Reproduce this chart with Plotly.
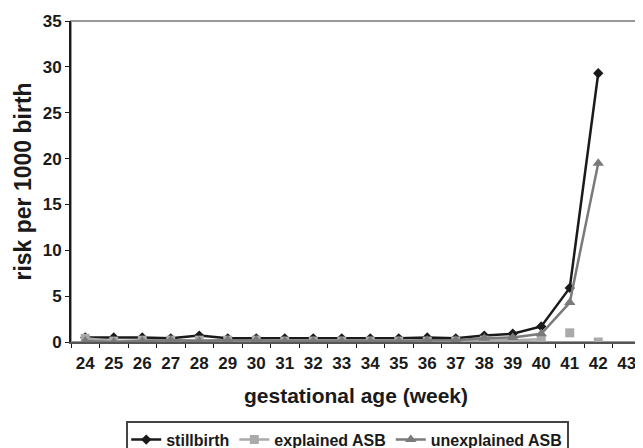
import plotly.graph_objects as go

weeks = [str(w) for w in range(24, 44)]
data_weeks = [str(w) for w in range(24, 43)]
stillbirth = [0.5, 0.5, 0.5, 0.4, 0.7, 0.4, 0.4, 0.4, 0.4, 0.4, 0.4, 0.4, 0.5, 0.4, 0.7, 0.9, 1.7, 5.9, 29.3]
explained = [0.4, 0.1, 0.2, 0.2, 0.2, 0.2, 0.2, 0.1, 0.1, 0.1, 0.1, 0.1, 0.1, 0.1, 0.2, 0.2, 0.3, 1.0, 0.0]
unexplained = [0.1, 0.0, 0.1, 0.2, 0.1, 0.2, 0.2, 0.1, 0.1, 0.1, 0.1, 0.1, 0.2, 0.2, 0.4, 0.5, 0.9, 4.3, 19.5]

line_end = 17  # explained ASB line ends at week 40; later points drawn unconnected

font_family = "Liberation Sans, Arial, Helvetica, sans-serif"

fig = go.Figure()
fig.add_trace(go.Scatter(
    x=data_weeks, y=stillbirth, name="stillbirth", mode="lines+markers",
    line=dict(color="#1a1a1a", width=2.5),
    marker=dict(symbol="diamond", size=8, color="#1a1a1a")))
fig.add_trace(go.Scatter(
    x=data_weeks[:line_end], y=explained[:line_end], name="explained ASB", mode="lines+markers",
    line=dict(color="#aaaaaa", width=2.5), legendgroup="exp",
    marker=dict(symbol="square", size=9, color="#aaaaaa")))
fig.add_trace(go.Scatter(
    x=data_weeks[line_end:], y=explained[line_end:], name="explained ASB", mode="markers",
    legendgroup="exp", showlegend=False,
    marker=dict(symbol="square", size=9, color="#aaaaaa")))
fig.add_trace(go.Scatter(
    x=data_weeks, y=unexplained, name="unexplained ASB", mode="lines+markers",
    line=dict(color="#7a7a7a", width=2.5),
    marker=dict(symbol="triangle-up", size=10, color="#7a7a7a")))

fig.update_layout(
    width=635, height=440,
    margin=dict(l=63, r=2, t=13, b=106, autoexpand=False),
    paper_bgcolor="white", plot_bgcolor="white",
    font=dict(family=font_family, color="#1a1a1a", size=15),
    showlegend=True,
    legend=dict(orientation="h", xref="container", yref="container",
                x=0.535, xanchor="center", y=0.062, yanchor="top",
                bordercolor="#444444", borderwidth=2, bgcolor="white",
                font=dict(size=16, family=font_family, weight="bold"),
                tracegroupgap=0),
    xaxis=dict(type="category", categoryorder="array", categoryarray=weeks,
               range=[-0.5, 19.5], tickmode="array", tickvals=weeks, ticktext=weeks,
               tickson="boundaries", ticks="outside", ticklen=4, tickcolor="#1a1a1a",
               ticklabelstandoff=5,
               showline=True, linecolor="#555555", linewidth=2, showgrid=False,
               automargin=False,
               tickfont=dict(size=17, family=font_family, weight="bold"),
               title=dict(text="gestational age (week)", standoff=16,
                          font=dict(size=21, family=font_family, weight="bold"))),
    yaxis=dict(range=[0, 35], dtick=5, ticks="outside", ticklen=4, tickcolor="#1a1a1a",
               showline=True, linecolor="#1a1a1a", linewidth=2, showgrid=False, zeroline=False,
               automargin=False,
               tickfont=dict(size=17, family=font_family, weight="bold"),
               title=dict(text="risk per 1000 birth", standoff=5,
                          font=dict(size=23, family=font_family, weight="bold"))),
    shapes=[dict(type="rect", xref="paper", yref="paper", x0=0, x1=1, y0=0, y1=1,
                 line=dict(color="#999999", width=2), layer="below")],
)

fig.write_html("out.html")
